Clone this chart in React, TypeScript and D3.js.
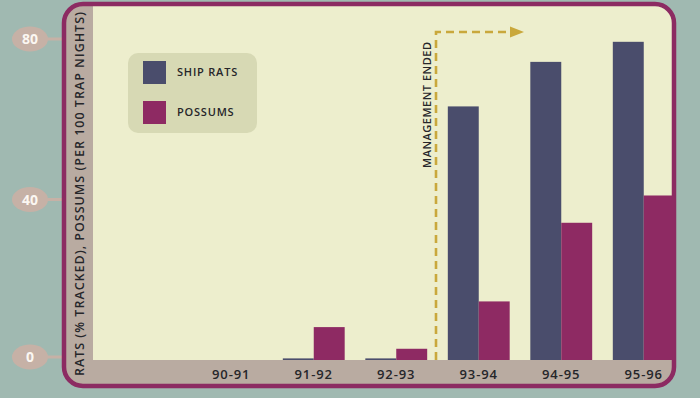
import * as d3 from "d3";

const W = 700;
const H = 398;

const seasons = ["90-91", "91-92", "92-93", "93-94", "94-95", "95-96"];
const shipRats = [0, 0.4, 0.4, 63.2, 74.3, 79.3];
const possums = [0, 8.2, 2.8, 14.6, 34.2, 41];
const yTicks = [0, 40, 80];
const seriesNames = ["SHIP RATS", "POSSUMS"];

const COL = {
  bg: "#a0b9b1",
  cream: "#edeecd",
  tan: "#b9aba1",
  border: "#8c2b62",
  rats: "#4a4d6c",
  possums: "#8e2a63",
  pill: "#c6b1a6",
  legend: "#d7d9b4",
  gold: "#c9a83c",
  text: "#26262a",
};

const PANEL = { x: 64, y: 4, w: 610, h: 382, r: 19 };
const BAND_X = 93; // right edge of left strip
const BASE_Y = 360;

export default function App() {
  const x = d3.scaleBand().domain(seasons).range([190, 685]).paddingInner(0.25).paddingOuter(0.125);
  const inner = d3.scaleBand().domain(seriesNames).range([0, x.bandwidth()]);
  const y = d3.scaleLinear().domain([0, 80]).range([BASE_Y, 39]);

  const rows = seasons.map((s, i) => ({ s, vals: [shipRats[i], possums[i]] }));
  const cols = [COL.rats, COL.possums];

  const mgmtX = 436;
  const mgmtTop = 32;

  return (
    <svg
      width={W}
      height={H}
      style={{ position: "absolute", left: 0, top: 0, display: "block" }}
      fontFamily="'Open Sans', sans-serif"
    >
      <defs>
        <clipPath id="panelClip">
          <rect x={PANEL.x} y={PANEL.y} width={PANEL.w} height={PANEL.h} rx={PANEL.r} />
        </clipPath>
      </defs>
      <rect width={W} height={H} fill={COL.bg} />

      {/* y tick pills */}
      {yTicks.map((t) => (
        <g key={t} transform={`translate(30, ${y(t) - (t === 0 ? 3 : 0)})`}>
          <line x1={10} x2={PANEL.x - 2} y1={0} y2={0} stroke={COL.pill} strokeWidth={3} />
          <ellipse rx={18} ry={12.5} fill={COL.pill} />
          <text
            textAnchor="middle"
            dy="0.36em"
            fill="#fbf7f2"
            fontWeight={700}
            fontSize={14}
          >
            {t}
          </text>
        </g>
      ))}

      {/* panel */}
      <g clipPath="url(#panelClip)">
        <rect x={PANEL.x} y={PANEL.y} width={PANEL.w} height={PANEL.h} fill={COL.cream} />
        <rect x={PANEL.x} y={PANEL.y} width={BAND_X - PANEL.x} height={PANEL.h} fill={COL.tan} />
        <rect x={PANEL.x} y={BASE_Y} width={PANEL.w} height={PANEL.y + PANEL.h - BASE_Y} fill={COL.tan} />
      </g>
      <rect
        x={PANEL.x}
        y={PANEL.y}
        width={PANEL.w}
        height={PANEL.h}
        rx={PANEL.r}
        fill="none"
        stroke={COL.border}
        strokeWidth={4.5}
      />

      {/* y axis title */}
      <text
        transform={`translate(84, 194) rotate(-90)`}
        textAnchor="middle"
        fontWeight={600}
        fontSize={12.5}
        fill={COL.text}
        textLength={364}
        lengthAdjust="spacing"
      >
        RATS (% TRACKED), POSSUMS (PER 100 TRAP NIGHTS)
      </text>

      {/* management ended marker */}
      <path
        d={`M${mgmtX},${BASE_Y} V${mgmtTop} H${512}`}
        fill="none"
        stroke={COL.gold}
        strokeWidth={2.6}
        strokeDasharray="8 5"
      />
      <path d={`M510,${mgmtTop - 5.5} L524,${mgmtTop} L510,${mgmtTop + 5.5} Z`} fill={COL.gold} />
      <text
        transform={`translate(431, 105) rotate(-90)`}
        textAnchor="middle"
        fontWeight={600}
        fontSize={11}
        fill={COL.text}
        textLength={126}
        lengthAdjust="spacing"
      >
        MANAGEMENT ENDED
      </text>

      {/* bars */}
      {rows.map((r) => (
        <g key={r.s} transform={`translate(${x(r.s)}, 0)`}>
          {r.vals.map((v, j) =>
            v > 0 ? (
              <rect
                key={j}
                x={inner(seriesNames[j])}
                y={y(v)}
                width={inner.bandwidth()}
                height={BASE_Y - y(v)}
                fill={cols[j]}
              />
            ) : null
          )}
        </g>
      ))}

      {/* x labels */}
      {seasons.map((s) => (
        <text
          key={s}
          x={(x(s) ?? 0) + x.bandwidth() / 2}
          y={374}
          dy="0.36em"
          textAnchor="middle"
          fontWeight={600}
          fontSize={13}
          letterSpacing={0.9}
          fill={COL.text}
        >
          {s}
        </text>
      ))}

      {/* legend */}
      <g transform="translate(128, 53)">
        <rect width={129} height={80} rx={10} fill={COL.legend} />
        {seriesNames.map((n, i) => (
          <g key={n} transform={`translate(15, ${8 + i * 40})`}>
            <rect width={23} height={23} fill={cols[i]} />
            <text
              x={34}
              y={11.5}
              dy="0.36em"
              fontWeight={600}
              fontSize={11}
              letterSpacing={0.8}
              fill={COL.text}
            >
              {n}
            </text>
          </g>
        ))}
      </g>
    </svg>
  );
}
